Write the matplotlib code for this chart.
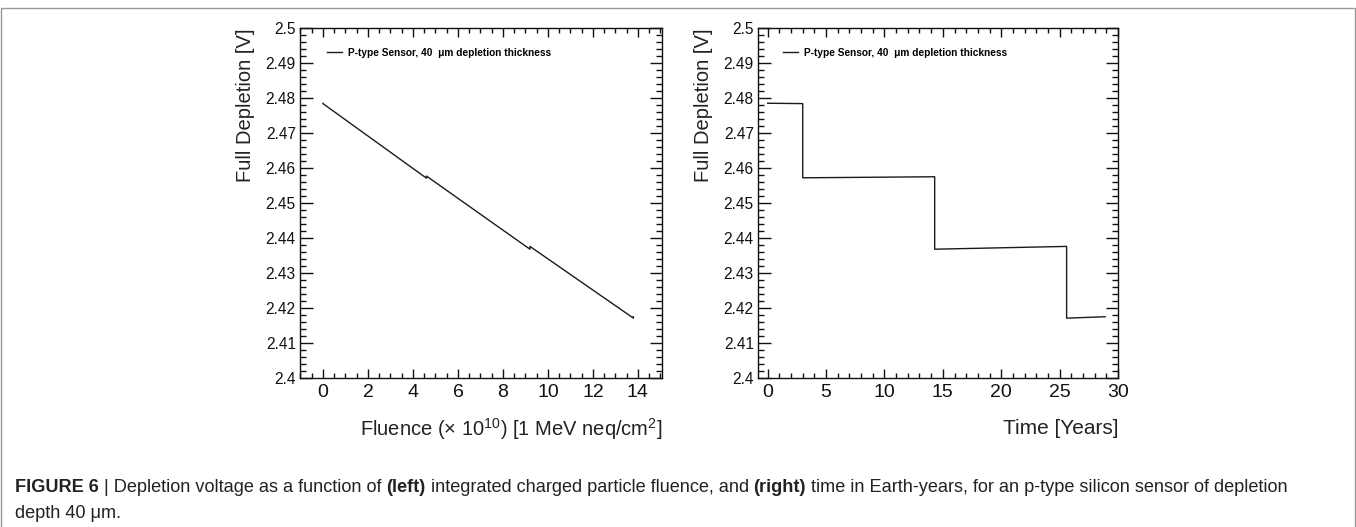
"""
plot.py

Depletion voltage of a 40 um p-type sensor vs fluence (left) and vs time (right).
"""

import matplotlib

matplotlib.use("Agg")
import matplotlib.pyplot as plt
from matplotlib.patches import Rectangle
from matplotlib.ticker import FuncFormatter, MultipleLocator

plt.rcParams["font.family"] = ["Liberation Sans", "DejaVu Sans"]
plt.rcParams["mathtext.fontset"] = "custom"
plt.rcParams["mathtext.rm"] = "Liberation Sans"
plt.rcParams["mathtext.it"] = "Liberation Sans:italic"
plt.rcParams["mathtext.bf"] = "Liberation Sans:bold"
plt.rcParams["mathtext.default"] = "regular"

# data
fluence = [0.0, 0.0, 4.6, 4.6, 9.2, 9.2, 13.8, 13.8]  # x 1e10 [1 MeV neq/cm2]
time_years = [0.0, 3.0, 3.0, 14.3, 14.3, 25.6, 25.6, 28.9]
v_fluence = [2.4785, 2.4784, 2.4571, 2.4577, 2.4368, 2.4376, 2.4171, 2.4175]
v_time = [2.4785, 2.4784, 2.4572, 2.4575, 2.4368, 2.4376, 2.4171, 2.4175]

legend_label = "P-type Sensor, 40  \u03bcm depletion thickness"
ylabel = "Full Depletion [V]"
xlabel_left = "Fluence (\u00d7 10$^{10}$) [1 MeV neq/cm$^{2}$]"
xlabel_right = "Time [Years]"

W, H = 1356, 527
fig = plt.figure(figsize=(W / 100, H / 100), dpi=100)

# thin frame around the whole figure
fig.patches.append(
    Rectangle(
        (0.5 / W, -0.01),
        (W - 2) / W,
        1 - 7.5 / H + 0.01,
        transform=fig.transFigure,
        fill=False,
        edgecolor="#9a9a9a",
        linewidth=1.0,
    )
)


def style_axes(ax, xmajor, xminor):
    ax.set_ylim(2.4, 2.5)
    ax.yaxis.set_major_locator(MultipleLocator(0.01))
    ax.yaxis.set_minor_locator(MultipleLocator(0.002))
    ax.yaxis.set_major_formatter(FuncFormatter(lambda v, p: "%g" % round(v, 3)))
    ax.xaxis.set_major_locator(MultipleLocator(xmajor))
    ax.xaxis.set_minor_locator(MultipleLocator(xminor))
    ax.tick_params(
        which="both", direction="in", top=True, right=True, width=1.0, colors="#111111"
    )
    ax.tick_params(axis="y", which="major", length=9, labelsize=11.2, pad=3)
    ax.tick_params(axis="y", which="minor", length=4.5)
    ax.tick_params(axis="x", which="major", length=6.5, labelsize=14, pad=4)
    ax.tick_params(axis="x", which="minor", length=3.3)
    for s in ax.spines.values():
        s.set_linewidth(1.0)
        s.set_color("#111111")
    ax.set_ylabel(ylabel, loc="top", fontsize=14.5, labelpad=8, color="#222222")


def add_legend(ax, x0):
    ax.legend(
        loc="center left",
        bbox_to_anchor=(x0, 0.929),
        frameon=False,
        borderpad=0,
        borderaxespad=0,
        handlelength=1.5,
        handletextpad=0.55,
        prop={"weight": "bold", "size": 7.3},
    )


ax1 = fig.add_axes([300 / W, 1 - 378 / H, 362 / W, 350 / H])
ax1.plot(fluence, v_fluence, color="#1a1a1a", lw=1.0, label=legend_label)
ax1.set_xlim(-1.02, 15.07)
style_axes(ax1, 2, 0.5)
ax1.set_xlabel(xlabel_left, loc="right", fontsize=14.5, labelpad=11, color="#222222")
add_legend(ax1, 0.074)

ax2 = fig.add_axes([758 / W, 1 - 378 / H, 360 / W, 350 / H])
ax2.plot(time_years, v_time, color="#1a1a1a", lw=1.0, label=legend_label)
ax2.set_xlim(-0.83, 30)
style_axes(ax2, 5, 1)
ax2.set_xlabel(xlabel_right, loc="right", fontsize=15, labelpad=13, color="#222222")
add_legend(ax2, 0.070)

# caption with mixed bold / regular pieces
caption_lines = [
    [
        ("FIGURE 6 ", "bold"),
        ("| Depletion voltage as a function of ", "normal"),
        ("(left)", "bold"),
        (" integrated charged particle fluence, and ", "normal"),
        ("(right)", "bold"),
        (" time in Earth-years, for an p-type silicon sensor of depletion", "normal"),
    ],
    [("depth 40 \u03bcm.", "normal")],
]
renderer = fig.canvas.get_renderer()
y_px = [H - 492, H - 518]
for line, yp in zip(caption_lines, y_px):
    x = 15.0
    for txt, wt in line:
        t = fig.text(
            x / W, yp / H, txt, fontsize=13.1, weight=wt, color="#222222",
            ha="left", va="baseline",
        )
        x += t.get_window_extent(renderer).width

fig.savefig("out.png", dpi=100)
